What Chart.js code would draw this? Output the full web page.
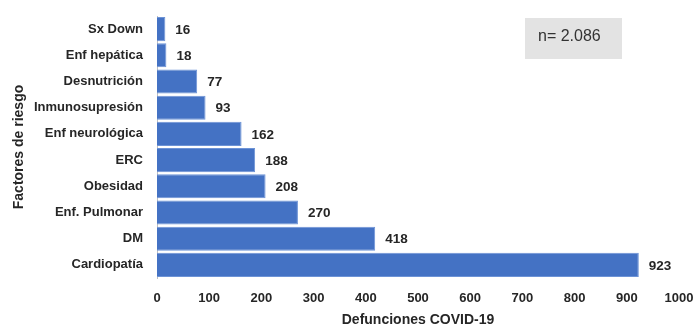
<!DOCTYPE html>
<html>
<head>
<meta charset="utf-8">
<script src="https://cdn.jsdelivr.net/npm/chart.js@4/dist/chart.umd.min.js"></script>
<style>
  html, body { margin: 0; padding: 0; background: #ffffff; }
  #wrap { width: 696px; height: 327px; }
</style>
</head>
<body>
<div id="wrap"><canvas id="c" width="696" height="327"></canvas></div>
<script>
// Risk factors among COVID-19 deaths (top to bottom)
const categories = [
  'Sx Down', 'Enf hepática', 'Desnutrición', 'Inmunosupresión', 'Enf neurológica',
  'ERC', 'Obesidad', 'Enf. Pulmonar', 'DM', 'Cardiopatía'
];
const deaths = [16, 18, 77, 93, 162, 188, 208, 270, 418, 923];
const xTicks = [0, 100, 200, 300, 400, 500, 600, 700, 800, 900, 1000];
const sampleNote = 'n= 2.086';

const FONT = '"Liberation Sans", Arial, sans-serif';
const TEXT = '#262626';

// Value labels at the end of each bar
const valueLabels = {
  id: 'valueLabels',
  afterDatasetsDraw(chart) {
    const ctx = chart.ctx;
    const meta = chart.getDatasetMeta(0);
    ctx.save();
    ctx.font = 'bold 13.5px ' + FONT;
    ctx.fillStyle = TEXT;
    ctx.textAlign = 'left';
    ctx.textBaseline = 'middle';
    meta.data.forEach((bar, i) => {
      ctx.fillText(String(deaths[i]), bar.x + 10, bar.y + 1);
    });
    ctx.restore();
  }
};

// Sample size box in the upper right
const noteBox = {
  id: 'noteBox',
  afterDraw(chart) {
    const ctx = chart.ctx;
    ctx.save();
    ctx.fillStyle = '#e3e3e3';
    ctx.fillRect(525, 18, 97, 41);
    ctx.font = '16px ' + FONT;
    ctx.fillStyle = '#333333';
    ctx.textAlign = 'left';
    ctx.textBaseline = 'middle';
    ctx.fillText(sampleNote, 538, 37);
    ctx.restore();
  }
};

new Chart(document.getElementById('c'), {
  type: 'bar',
  data: {
    labels: categories,
    datasets: [{
      data: deaths,
      backgroundColor: '#4472c4',
      borderColor: '#6d93d6',
      borderWidth: 1,
      barPercentage: 0.92,
      categoryPercentage: 1.0
    }]
  },
  options: {
    indexAxis: 'y',
    responsive: false,
    animation: false,
    layout: { padding: { left: 6, right: 17, top: 16, bottom: 0 } },
    plugins: {
      legend: { display: false },
      tooltip: { enabled: false }
    },
    scales: {
      x: {
        min: 0,
        max: 1000,
        afterBuildTicks(scale) { scale.ticks = xTicks.map(v => ({ value: v })); },
        afterFit(scale) {
          scale.height = 49;
          scale.paddingLeft = 0;
          scale.paddingRight = 0;
        },
        grid: { display: false, drawTicks: false },
        border: { display: false },
        ticks: {
          padding: 13,
          color: TEXT,
          font: { family: FONT, size: 13, weight: 'bold' },
          callback: (v) => String(v)
        },
        title: {
          display: true,
          text: 'Defunciones COVID-19',
          color: TEXT,
          font: { family: FONT, size: 14, weight: 'bold' },
          padding: { top: 0, bottom: -2 }
        }
      },
      y: {
        afterFit(scale) {
          scale.width = 151;
          scale.paddingTop = 0;
          scale.paddingBottom = 0;
        },
        grid: { display: false, drawTicks: false },
        border: { display: true, color: '#bfbfbf', width: 1 },
        ticks: {
          padding: 14,
          color: TEXT,
          font: { family: FONT, size: 13, weight: 'bold' }
        },
        title: {
          display: true,
          text: 'Factores de riesgo',
          color: TEXT,
          font: { family: FONT, size: 14, weight: 'bold' },
          padding: { top: 5, bottom: 0 }
        }
      }
    }
  },
  plugins: [valueLabels, noteBox]
});
</script>
</body>
</html>
